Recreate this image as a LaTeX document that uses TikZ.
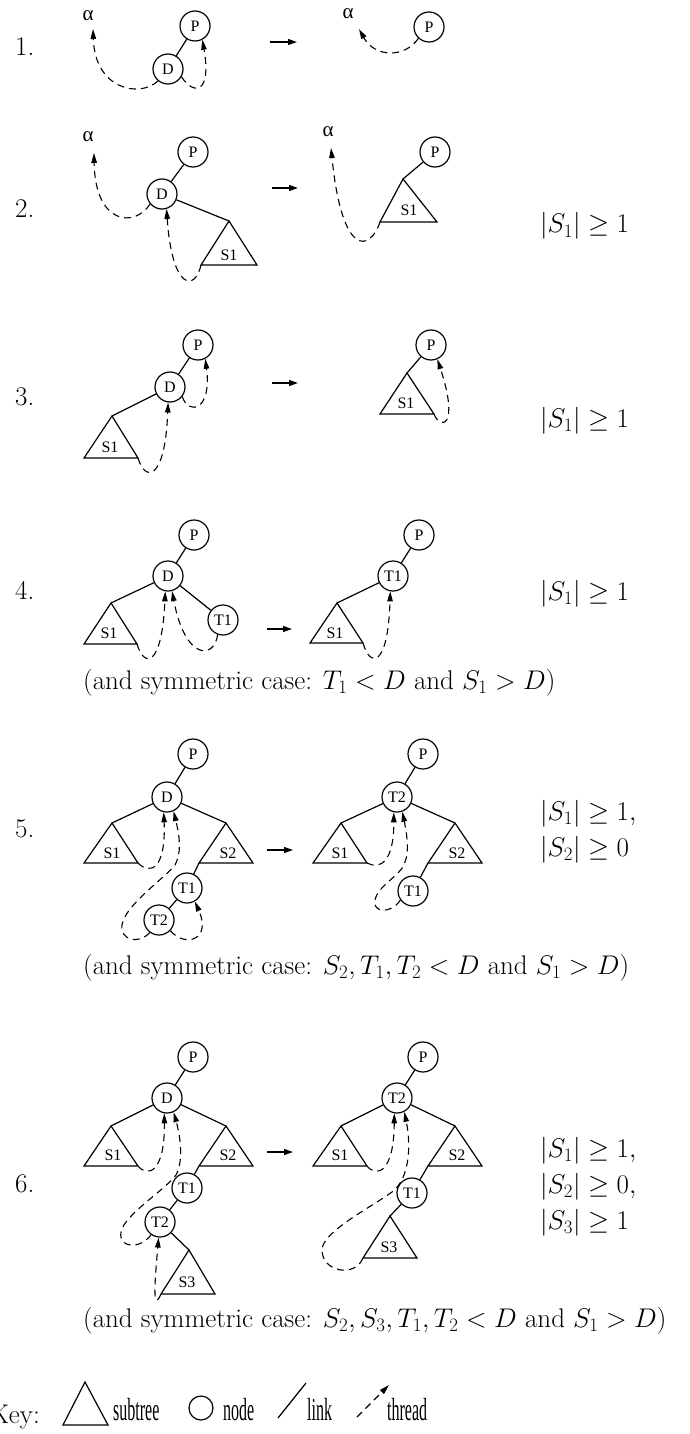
\documentclass[tikz,border=0pt]{standalone}
\usepackage{fix-cm}
\usepackage{fontspec}
\newfontfamily\tnr{Liberation Serif}
\newfontfamily\tnrn[FakeStretch=0.5]{Liberation Serif}
\usetikzlibrary{arrows.meta}
\tikzset{
  tn/.style={circle, draw, line width=1.2pt, minimum size=30pt, inner sep=0pt, font=\tnr\fontsize{16}{16}\selectfont},
  lnk/.style={line width=1.2pt},
  thr/.style={line width=1.1pt, dash pattern=on 7pt off 5pt, -{Triangle[length=10pt,width=5.5pt]}},
  trans/.style={line width=1.2pt, -{Triangle[length=9pt,width=6pt]}},
  lab/.style={font=\tnr\fontsize{16}{16}\selectfont, inner sep=0pt},
  alab/.style={font=\tnr\fontsize{21}{21}\selectfont, inner sep=0pt},
  big/.style={font=\fontsize{27}{32}\selectfont, inner sep=0pt},
  keylab/.style={font=\tnrn\fontsize{32}{32}\selectfont, inner sep=0pt, anchor=base west},
}
\newcommand\stree[6]{\draw[lnk] (#2) coordinate (#1a) -- (#3) coordinate (#1l) -- (#4) coordinate (#1r) -- cycle; \node[lab] (#1) at (#5) {#6};}
\begin{document}
\begin{tikzpicture}[x=1pt,y=-1pt]
\useasboundingbox (0,0) rectangle (690,1434);
% row labels
\node[big, anchor=base west] (n1) at (15,56) {1.};
\node[big, anchor=base west] (n2) at (15,217) {2.};
\node[big, anchor=base west] (n3) at (15,405) {3.};
\node[big, anchor=base west] (n4) at (15,599) {4.};
\node[big, anchor=base west] (n5) at (15,837) {5.};
\node[big, anchor=base west] (n6) at (15,1192) {6.};
% transition arrows
\foreach \i/\xa/\xb/\yy in {1/270/297/42, 2/272/298/188, 3/272/298/383, 4/267/292/629, 5/267/293/850, 6/267/293/1152}{
  \coordinate (ar\i s) at (\xa,\yy); \coordinate (ar\i e) at (\xb,\yy);
  \draw[trans] (ar\i s) -- (ar\i e);
}
% ---------- row 1
\node[alab] (al1) at (88,16) {α};
\node[alab] (al2) at (348,14) {α};
\coordinate (a1t) at (93,29);
\coordinate (a2t) at (359,29);
\node[tn] (P11) at (195,26) {P};
\node[tn] (D11) at (168,69) {D};
\node[tn] (P12) at (429,27) {P};
\draw[lnk] (P11) -- (D11);
\draw[thr] (D11.230) .. controls (140,98) and (95,90) .. (a1t);
\draw[thr] (D11.-30) .. controls (193,95) and (212,95) .. (P11.-62);
\draw[thr] (P12.227) .. controls (405,58) and (375,58) .. (a2t);
% ---------- row 2
\node[alab] (al3) at (88,137) {α};
\node[alab] (al4) at (328,132) {α};
\coordinate (a3t) at (94,153);
\coordinate (a4t) at (331,148);
\node[tn] (P21) at (193,152) {P};
\node[tn] (D21) at (162,194) {D};
\node[tn] (P22) at (435,152) {P};
\stree{s21}{229,221}{201,265}{257,265}{229,255}{S1}
\stree{s22}{403,179}{380,222}{437,222}{409,210}{S1}
\draw[lnk] (P21) -- (D21);
\draw[lnk] (D21) -- (s21a);
\draw[lnk] (P22) -- (s22a);
\draw[thr] (D21.220) .. controls (135,228) and (95,225) .. (a3t);
\draw[thr] (s21l) .. controls (195,292) and (172,290) .. (D21.-73);
\draw[thr] (s22l) .. controls (370,252) and (342,258) .. (a4t);
\node[big, anchor=base west] (c2) at (540,233) {$|S_1| \geq 1$};
% ---------- row 3
\node[tn] (P31) at (198,345) {P};
\node[tn] (D31) at (170,387) {D};
\node[tn] (P32) at (431,345) {P};
\stree{s31}{112,416}{84,458}{138,458}{110,447}{S1}
\stree{s32}{407,373}{380,414}{434,414}{406,403}{S1}
\draw[lnk] (P31) -- (D31);
\draw[lnk] (D31) -- (s31a);
\draw[lnk] (P32) -- (s32a);
\draw[thr] (D31.-38) .. controls (188,415) and (212,412) .. (P31.-62);
\draw[thr] (s31r) .. controls (145,482) and (165,482) .. (D31.-97);
\draw[thr] (s32r) .. controls (440,430) and (460,428) .. (P32.-66);
\node[big, anchor=base west] (c3) at (540,427) {$|S_1| \geq 1$};
% ---------- row 4
\node[tn] (P41) at (194,535) {P};
\node[tn] (D41) at (168,576) {D};
\node[tn] (T41) at (223,620) {T1};
\node[tn] (P42) at (419,535) {P};
\node[tn] (T42) at (393,576) {T1};
\stree{s41}{111,603}{84,644}{137,644}{109,633}{S1}
\stree{s42}{337,603}{310,643}{363,643}{335,633}{S1}
\draw[lnk] (P41) -- (D41);
\draw[lnk] (D41) -- (s41a);
\draw[lnk] (D41) -- (T41);
\draw[lnk] (P42) -- (T42);
\draw[lnk] (T42) -- (s42a);
\draw[thr] (s41r) .. controls (144,668) and (162,668) .. (D41.-100);
\draw[thr] (T41.-110) .. controls (214,660) and (185,660) .. (D41.-75);
\draw[thr] (s42r) .. controls (370,668) and (388,668) .. (T42.-100);
\node[big, anchor=base west] (c4) at (540,600) {$|S_1| \geq 1$};
\node[big, anchor=base west] (sym4) at (83,689) {(and symmetric case: $T_1 < D$ and $S_1 > D$)};
% ---------- row 5
\node[tn] (P51) at (193,754) {P};
\node[tn] (D51) at (167,797) {D};
\node[tn] (T51) at (187,888) {T1};
\node[tn] (T52) at (159,920) {T2};
\node[tn] (P52) at (423,754) {P};
\node[tn] (R52) at (397,797) {T2};
\node[tn] (T53) at (413,891) {T1};
\stree{s51}{112,823}{84,863}{138,863}{112,853}{S1}
\stree{s52}{226,823}{199,863}{253,863}{228,853}{S2}
\stree{s53}{341,823}{313,863}{367,863}{340,853}{S1}
\stree{s54}{455,823}{428,863}{482,863}{457,853}{S2}
\draw[lnk] (P51) -- (D51);
\draw[lnk] (D51) -- (s51a);
\draw[lnk] (D51) -- (s52a);
\draw[lnk] (s52l) -- (T51);
\draw[lnk] (T51) -- (T52);
\draw[lnk] (P52) -- (R52);
\draw[lnk] (R52) -- (s53a);
\draw[lnk] (R52) -- (s54a);
\draw[lnk] (s54l) -- (T53);
\draw[thr] (s51r) .. controls (150,875) and (166,870) .. (D51.-102);
\draw[thr] (T52.234) .. controls (138,945) and (120,940) .. (122,925) .. controls (125,905) and (165,878) .. (175,865) .. controls (183,850) and (178,830) .. (D51.-65);
\draw[thr] (T52.-43) .. controls (185,948) and (212,940) .. (T51.-60);
\draw[thr] (s53r) .. controls (380,870) and (394,862) .. (R52.-102);
\draw[thr] (T53.216) .. controls (390,915) and (372,912) .. (375,900) .. controls (378,885) and (402,875) .. (405,862) .. controls (410,850) and (406,830) .. (R52.-70);
\node[big, anchor=base west] (c5a) at (540,820) {$|S_1| \geq 1,$};
\node[big, anchor=base west] (c5b) at (540,856) {$|S_2| \geq 0$};
\node[big, anchor=base west] (sym5) at (83,974) {(and symmetric case: $S_2, T_1, T_2 < D$ and $S_1 > D$)};
% ---------- row 6
\node[tn] (P61) at (193,1057) {P};
\node[tn] (D61) at (167,1098) {D};
\node[tn] (T61) at (187,1188) {T1};
\node[tn] (T62) at (160,1222) {T2};
\node[tn] (P62) at (423,1057) {P};
\node[tn] (R62) at (397,1098) {T2};
\node[tn] (T63) at (412,1193) {T1};
\stree{s61}{111,1126}{84,1166}{138,1166}{113,1155}{S1}
\stree{s62}{226,1126}{199,1166}{253,1166}{228,1155}{S2}
\stree{s63}{189,1250}{161,1294}{215,1294}{187,1282}{S3}
\stree{s64}{341,1126}{313,1166}{367,1166}{340,1155}{S1}
\stree{s65}{455,1126}{428,1166}{482,1166}{457,1155}{S2}
\stree{s66}{390,1216}{363,1258}{417,1258}{389,1247}{S3}
\draw[lnk] (P61) -- (D61);
\draw[lnk] (D61) -- (s61a);
\draw[lnk] (D61) -- (s62a);
\draw[lnk] (s62l) -- (T61);
\draw[lnk] (T61) -- (T62);
\draw[lnk] (T62) -- (s63a);
\draw[lnk] (P62) -- (R62);
\draw[lnk] (R62) -- (s64a);
\draw[lnk] (R62) -- (s65a);
\draw[lnk] (s65l) -- (T63);
\draw[lnk] (T63) -- (s66a);
\draw[thr] (s61r) .. controls (148,1178) and (165,1172) .. (D61.-100);
\draw[thr] (T62.235) .. controls (140,1250) and (118,1248) .. (121,1232) .. controls (124,1215) and (165,1190) .. (176,1175) .. controls (184,1160) and (180,1135) .. (D61.-65);
\draw[thr] (s63l) .. controls (153,1312) and (154,1290) .. (T62.-95);
\draw[thr] (s64r) .. controls (377,1178) and (394,1172) .. (R62.-100);
\draw[thr] (s66l) .. controls (355,1278) and (322,1272) .. (322,1250) .. controls (322,1232) and (370,1208) .. (392,1192) .. controls (408,1180) and (412,1150) .. (R62.-62);
\node[big, anchor=base west] (c6a) at (540,1157) {$|S_1| \geq 1,$};
\node[big, anchor=base west] (c6b) at (540,1193) {$|S_2| \geq 0,$};
\node[big, anchor=base west] (c6c) at (540,1229) {$|S_3| \geq 1$};
\node[big, anchor=base west] (sym6) at (83,1327) {(and symmetric case: $S_2, S_3, T_1, T_2 < D$ and $S_1 > D$)};
% ---------- key
\node[big, anchor=base east] (key) at (40,1423) {Key:};
\draw[lnk] (85,1382) coordinate (ka) -- (63,1425) coordinate (kl) -- (108,1425) coordinate (kr) -- cycle;
\node[keylab] (kst) at (113,1420) {subtree};
\node[circle, draw, line width=1.2pt, minimum size=24pt, inner sep=0pt] (kn) at (201,1408) {};
\node[keylab] (knd) at (223,1420) {node};
\coordinate (kl1) at (278,1418); \coordinate (kl2) at (306,1383);
\draw[lnk] (kl1) -- (kl2);
\node[keylab] (klk) at (307,1420) {link};
\coordinate (kt1) at (357,1417); \coordinate (kt2) at (389,1385);
\draw[thr] (kt1) -- (kt2);
\node[keylab] (kth) at (387,1420) {thread};
\end{tikzpicture}
\end{document}
